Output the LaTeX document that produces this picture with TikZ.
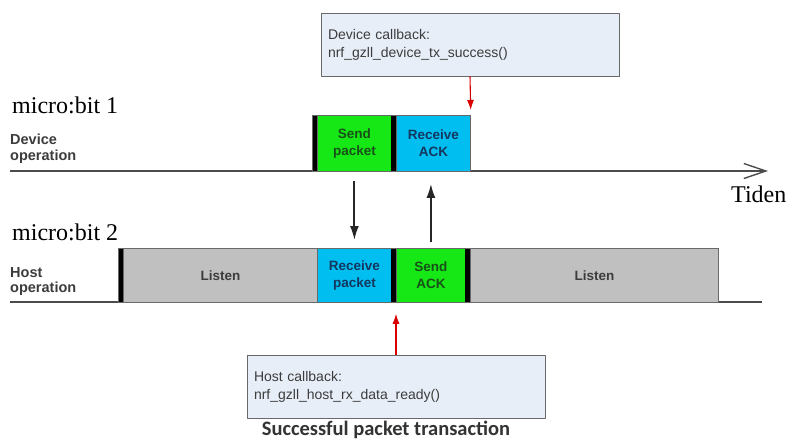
\documentclass[tikz,border=0pt]{standalone}
\usepackage{fontspec}
\setmainfont{Liberation Serif}
\setsansfont{Liberation Sans}
\newfontfamily\capfont{Carlito}
\usetikzlibrary{arrows.meta,positioning}

\definecolor{sendgreen}{RGB}{22,232,22}
\definecolor{recvblue}{RGB}{0,190,240}
\definecolor{listengray}{RGB}{192,192,192}
\definecolor{cbfill}{RGB}{232,238,248}
\definecolor{boxline}{RGB}{105,105,105}
\definecolor{sendtext}{RGB}{25,80,25}
\definecolor{recvtext}{RGB}{20,55,95}
\definecolor{labelgray}{RGB}{60,60,60}

\begin{document}
\begin{tikzpicture}[x=1pt, y=-1pt, >=Latex, line join=round,
	blk/.style={draw=boxline, line width=0.8pt, inner sep=0pt, anchor=north west,
		minimum height=56pt, align=center,
		font=\sffamily\bfseries\fontsize{13.5}{17}\selectfont},
	cbbox/.style={draw=boxline, line width=0.9pt, fill=cbfill, text width=284pt,
		inner xsep=7pt, inner ysep=0pt, minimum height=63pt, align=left,
		font=\sffamily\fontsize{14}{18}\selectfont, text=labelgray},
	opname/.style={anchor=north west, inner sep=0pt, align=left, text=labelgray,
		font=\sffamily\bfseries\fontsize{14.5}{15.5}\selectfont},
	mbname/.style={anchor=base west, inner sep=0pt, font=\fontsize{24}{26}\selectfont},
	cbarrow/.style={->, red!85!black, line width=1.1pt, >={Latex[length=10pt,width=7pt]}},
	flow/.style={->, black!85, line width=2pt, >={Latex[length=14pt,width=9pt]}},
	timeline/.style={black!70, line width=1.4pt}]
	
	\useasboundingbox (0,0) rectangle (791,440);
	
	% device side
	\node[mbname] (mb1) at (12,113) {micro:bit 1};
	\node[opname] (devop) at (10,134) {Device\\operation};
	\coordinate (dstart) at (10,171);
	\coordinate (dend) at (768,171);
	\draw[timeline, -{Straight Barb[length=22pt,width=15pt]}] (dstart) -- (dend);
	\node[anchor=base west, inner sep=0pt, font=\fontsize{24}{26}\selectfont] (tiden) at (731,202) {Tiden};
	
	\fill (312,115) rectangle (317,171);
	\node[blk, fill=sendgreen, text=sendtext, minimum width=74pt] (dsend) at (317,115) {Send\\packet};
	\fill (391,115) rectangle (396,171);
	\node[blk, fill=recvblue, text=recvtext, minimum width=74pt] (dack) at (396,115) {Receive\\ACK};
	\draw[boxline, line width=0.8pt] (312,115) rectangle (470,171);
	
	% host side
	\node[mbname] (mb2) at (12,240) {micro:bit 2};
	\node[opname] (hostop) at (10,267) {Host\\operation};
	\coordinate (hstart) at (10,302);
	\coordinate (hend) at (762,302);
	\draw[timeline] (hstart) -- (hend);
	
	\fill (118,248) rectangle (123,302);
	\node[blk, fill=listengray, text=labelgray, minimum width=194pt, minimum height=54pt] (hlisten1) at (123,248) {Listen};
	\node[blk, fill=recvblue, text=recvtext, minimum width=74pt, minimum height=54pt] (hrecv) at (317,248) {Receive\\packet};
	\fill (391,248) rectangle (396,302);
	\node[blk, fill=sendgreen, text=sendtext, minimum width=69pt, minimum height=54pt] (hsend) at (396,248) {Send\\ACK};
	\fill (465,248) rectangle (470,302);
	\node[blk, fill=listengray, text=labelgray, minimum width=248pt, minimum height=54pt] (hlisten2) at (470,248) {Listen};
	\draw[boxline, line width=0.8pt] (118,248) rectangle (718,302);
	
	% packet and ACK
	\draw[flow, shorten <=9pt, shorten >=8pt] (dsend.south) -- (hrecv.north);
	\draw[flow, shorten <=6pt, shorten >=12pt] (hsend.north) -- (hsend.north |- dack.south);
	
	% callbacks
	\node[cbbox] (devcb) at (470,44.5) {Device callback:\\nrf\_gzll\_device\_tx\_success()};
	\draw[cbarrow, shorten >=5pt] (devcb.south) -- (dack.north east);
	
	\node[cbbox] (hostcb) at (396,386.5) {Host callback:\\nrf\_gzll\_host\_rx\_data\_ready()};
	\draw[cbarrow, shorten >=11pt] (hostcb.north) -- (hsend.south west);
	
	\node[anchor=base, inner sep=0pt, text=black!80, font=\capfont\bfseries\fontsize{20.5}{22}\selectfont] (caption) at (386,435) {Successful packet transaction};
	
\end{tikzpicture}
\end{document}
